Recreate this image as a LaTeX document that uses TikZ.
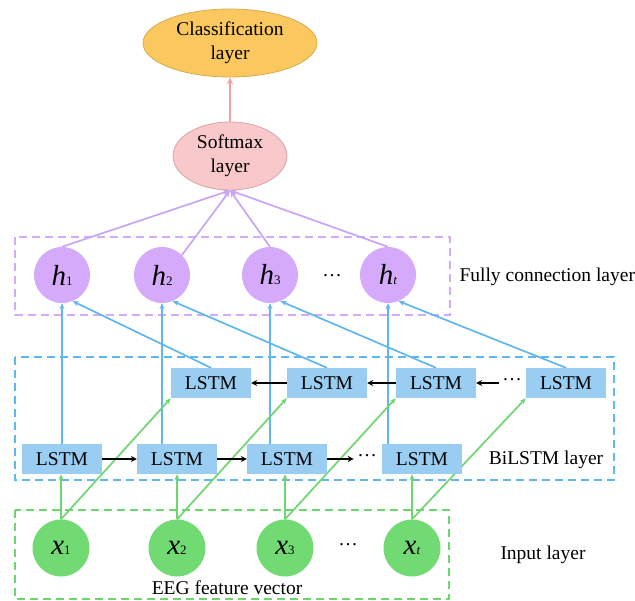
\documentclass[tikz,border=0pt]{standalone}
\usepackage{fontspec}
\setmainfont{Liberation Serif}
\usetikzlibrary{shapes.geometric,arrows.meta,backgrounds}
\definecolor{clsfill}{RGB}{250,200,95}
\definecolor{clsdraw}{RGB}{215,170,80}
\definecolor{smfill}{RGB}{248,200,202}
\definecolor{smdraw}{RGB}{215,165,170}
\definecolor{pinkarr}{RGB}{245,160,160}
\definecolor{hfill}{RGB}{214,170,250}
\definecolor{hline}{RGB}{200,165,245}
\definecolor{lstmfill}{RGB}{153,206,242}
\definecolor{bline}{RGB}{95,182,240}
\definecolor{gfill}{RGB}{114,218,114}
\definecolor{gline}{RGB}{110,214,110}
\newcommand\lbl[2]{\fontsize{29}{29}\selectfont\textit{#1}\fontsize{13}{13}\selectfont #2}
\begin{document}
\begin{tikzpicture}[x=1pt,y=-1pt,
  txt/.style={font=\fontsize{19.5}{24}\selectfont},
  ell/.style={ellipse,inner sep=0pt,txt,align=center,line width=0.8pt},
  hnode/.style={circle,fill=hfill,minimum size=56pt,inner sep=0pt},
  xnode/.style={circle,fill=gfill,minimum size=57pt,inner sep=0pt},
  lstm/.style={rectangle,fill=lstmfill,minimum width=80pt,minimum height=30pt,inner sep=0pt,txt},
  dbox/.style={dash pattern=on 8pt off 5pt,line width=1.8pt},
  ptip/.style={-{Stealth[length=7pt,width=6pt]}},
  btip/.style={-{Stealth[length=6pt,width=5pt]}},
  karr/.style={line width=2pt,-{Stealth[length=6pt,width=6pt]}}
]
\useasboundingbox (0,0) rectangle (635,601);
% top
\node[ell,fill=clsfill,draw=clsdraw,minimum width=174pt,minimum height=68pt] (cls) at (230,43) {Classification\\layer};
\node[ell,fill=smfill,draw=smdraw,minimum width=114pt,minimum height=68pt] (sm) at (230,156) {Softmax\\layer};
% h nodes
\node[hnode] (h1) at (62,275) {\lbl{h}{1}};
\node[hnode] (h2) at (162,275) {\lbl{h}{2}};
\node[hnode] (h3) at (270,275) {\lbl{h}{3}};
\node[hnode] (ht) at (388,275) {\lbl{h}{\textit{t}}};
\node[txt] (hd) at (332,276) {\ldots};
\node[txt,anchor=west] (fcl) at (456,277) {Fully connection layer};
% LSTM backward row
\node[lstm] (t1) at (211,383) {LSTM};
\node[lstm] (t2) at (327,383) {LSTM};
\node[lstm] (t3) at (436,383) {LSTM};
\node[lstm] (t4) at (566,383) {LSTM};
\node[txt] (td) at (512,380) {\ldots};
% LSTM forward row
\node[lstm] (b1) at (62,459) {LSTM};
\node[lstm] (b2) at (177,459) {LSTM};
\node[lstm] (b3) at (287,459) {LSTM};
\node[lstm] (b4) at (422,459) {LSTM};
\node[txt] (bd) at (367,456) {\ldots};
\node[txt] (bil) at (546,460) {BiLSTM layer};
% x nodes
\node[xnode] (x1) at (61,548) {\lbl{x}{1}};
\node[xnode] (x2) at (177,548) {\lbl{x}{2}};
\node[xnode] (x3) at (285,548) {\lbl{x}{3}};
\node[xnode] (xt) at (412,548) {\lbl{x}{\textit{t}}};
\node[txt] (xd) at (348,545) {\ldots};
\node[txt] (inl) at (543,555) {Input layer};
\node[txt] (eeg) at (227,588) {EEG feature vector};

\begin{scope}[on background layer]
% dashed boxes
\draw[dbox,draw=hfill] (15,237) rectangle (450,315);
\draw[dbox,draw=bline] (15,357) rectangle (614,480);
\draw[dbox,draw=gline] (15,510) rectangle (449,599);
% pink arrow
\draw[pinkarr,line width=1.5pt,ptip] (sm.north) -- (cls.south);
% purple lines to softmax
\foreach \n/\a in {h1/north,h2/north east,h3/north,ht/north}
  \draw[hline,line width=1.7pt,ptip] (\n.\a) -- (sm.south);
% blue vertical
\foreach \b/\h in {b1/h1,b2/h2,b3/h3,b4/ht}
  \draw[bline,line width=1.7pt,btip] (\h.south |- \b.north) -- (\h.south);
% blue diagonal
\foreach \t/\h in {t1/h1,t2/h2,t3/h3,t4/ht}
  \draw[bline,line width=1.7pt,btip] (\t.north) -- (\h.-68);
% green vertical
\foreach \x/\b in {x1/b1,x2/b2,x3/b3,xt/b4}
  \draw[gline,line width=1.7pt,btip] (\x.north) -- (\x.north |- \b.south);
% green diagonal
\foreach \x/\t in {x1/t1,x2/t2,x3/t3,xt/t4}
  \draw[gline,line width=1.7pt,btip] (\x.north) -- (\t.south west);
\end{scope}
% black arrows
\draw[karr] (b1.east) -- (b2.west);
\draw[karr] (b2.east) -- (b3.west);
\draw[karr] (b3.east) -- (bd.west |- b3.east);
\draw[karr] (t2.west) -- (t1.east);
\draw[karr] (t3.west) -- (t2.east);
\draw[karr] (td.west |- t3.east) -- (t3.east);
\end{tikzpicture}
\end{document}
